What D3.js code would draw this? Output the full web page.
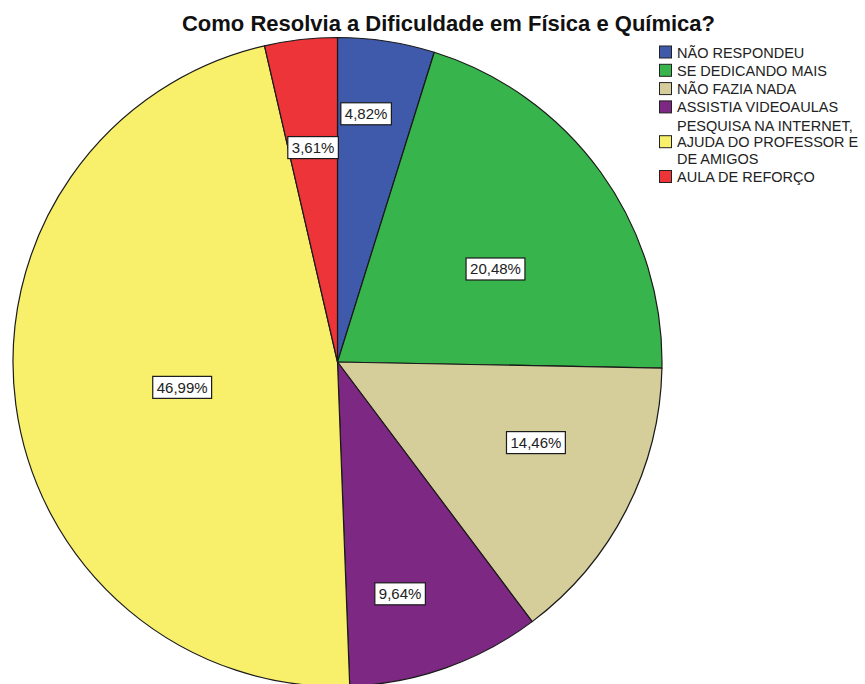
<!DOCTYPE html>
<html>
<head>
<meta charset="utf-8">
<script src="https://cdn.jsdelivr.net/npm/d3@7/dist/d3.min.js"></script>
<style>
  html, body { margin: 0; padding: 0; background: #fff; }
  svg { display: block; }
  text { font-family: "Liberation Sans", Arial, Helvetica, sans-serif; }
</style>
</head>
<body>
<svg id="chart" width="865" height="684"></svg>
<script>
// Answers to "Como Resolvia a Dificuldade em Física e Química?"
const categories = [
  ["NÃO RESPONDEU"],
  ["SE DEDICANDO MAIS"],
  ["NÃO FAZIA NADA"],
  ["ASSISTIA VIDEOAULAS"],
  ["PESQUISA NA INTERNET,", "AJUDA DO PROFESSOR E", "DE AMIGOS"],
  ["AULA DE REFORÇO"]
];
const percentages = [4.82, 20.48, 14.46, 9.64, 46.99, 3.61];
const sliceColors = ["#3f59ab", "#37b44b", "#d5ce9b", "#7d2883", "#f8f06b", "#ec3439"];

// Label placement inside each slice: fraction of radius, angle nudge (degrees)
const labelPlacement = [[0.77, -2.1], [0.565, 5.3], [0.66, -5], [0.74, 4.4], [0.485, -1.7], [0.665, 0]];

const svg = d3.select("#chart");
const cx = 337.5, cy = 362, radius = 324.5;

svg.append("text")
  .attr("x", 448.5).attr("y", 31)
  .attr("text-anchor", "middle")
  .attr("font-size", 22).attr("font-weight", "bold")
  .attr("fill", "#111")
  .text("Como Resolvia a Dificuldade em Física e Química?");

const pie = d3.pie().sort(null).value(d => d)(percentages);
const arc = d3.arc().innerRadius(0).outerRadius(radius);

const g = svg.append("g").attr("transform", `translate(${cx},${cy})`);

g.selectAll("path.slice")
  .data(pie)
  .join("path")
  .attr("class", "slice")
  .attr("d", arc)
  .attr("fill", (d, i) => sliceColors[i])
  .attr("stroke", "#1a1a1a")
  .attr("stroke-width", 1.2)
  .attr("stroke-linejoin", "round");

const fmt = v => d3.format(".2f")(v).replace(".", ",") + "%";

const labels = g.selectAll("g.lbl")
  .data(pie)
  .join("g")
  .attr("class", "lbl")
  .attr("transform", (d, i) => {
    const [f, nudge] = labelPlacement[i];
    const a = (d.startAngle + d.endAngle) / 2 + nudge * Math.PI / 180;
    const r = f * radius;
    return `translate(${r * Math.sin(a)},${-r * Math.cos(a)})`;
  });

labels.each(function(d) {
  const sel = d3.select(this);
  const t = sel.append("text")
    .attr("text-anchor", "middle")
    .attr("dy", "0.36em")
    .attr("font-size", 15)
    .attr("fill", "#222")
    .text(fmt(d.data));
  const bb = t.node().getBBox();
  sel.insert("rect", "text")
    .attr("x", -bb.width / 2 - 4)
    .attr("y", -11)
    .attr("width", bb.width + 8)
    .attr("height", 22)
    .attr("fill", "#fff")
    .attr("stroke", "#1a1a1a")
    .attr("stroke-width", 1.2);
});

// Legend
const legend = svg.append("g").attr("transform", "translate(659,0)");
const lineH = 16.5, rowGap = 18.3;
let y = 57.5;
categories.forEach((lines, i) => {
  const n = lines.length;
  const midBase = y + (n - 1) * lineH / 2;
  legend.append("rect")
    .attr("x", 0.5).attr("y", midBase - 11.5)
    .attr("width", 12).attr("height", 12)
    .attr("fill", sliceColors[i])
    .attr("stroke", "#222").attr("stroke-width", 1);
  lines.forEach((ln, j) => {
    legend.append("text")
      .attr("x", 18).attr("y", y + j * lineH)
      .attr("font-size", 14.5)
      .attr("fill", "#222")
      .text(ln);
  });
  y += (n - 1) * lineH + rowGap;
});
</script>
</body>
</html>
